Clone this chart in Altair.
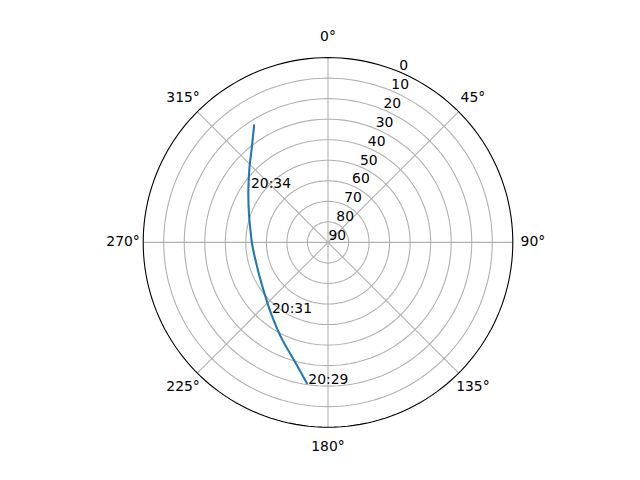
import altair as alt
import pandas as pd

# ---- data ----
track_az = [188.3, 195.5, 205.8, 218.8, 230.1, 247.2, 268.0, 275.5, 289.1, 302.5, 313.3, 321.0, 328.0]
track_el = [20.3, 29.7, 38.1, 45.7, 50.0, 53.2, 53.1, 52.3, 49.3, 44.0, 37.4, 31.0, 22.2]
label_text = ["20:29", "20:31", "20:34"]
label_az = [188.3, 218.8, 305.0]
label_el = [20.3, 45.7, 43.6]
ring_el = [0, 10, 20, 30, 40, 50, 60, 70, 80, 90]
spoke_az = [0, 45, 90, 135, 180, 225, 270, 315]
spoke_labels = ["0°", "45°", "90°", "135°", "180°", "225°", "270°", "315°"]

FONT = "DejaVu Sans"
FS = 13.9

xs = alt.Scale(domain=[-155.84, 146.10], nice=False, zero=False)
ys = alt.Scale(domain=[-109.87, 114.16], nice=False, zero=False)

def X(f):
    return alt.X(f, type="quantitative", scale=xs, axis=None)

def Y(f):
    return alt.Y(f, type="quantitative", scale=ys, axis=None)

XC = "datum.rho * sin(datum.az * PI / 180)"
YC = "datum.rho * cos(datum.az * PI / 180)"

# grid circles
circ_rows = [{"el": e, "az": a} for e in ring_el[1:] for a in range(0, 361, 2)]
circ_df = pd.DataFrame(circ_rows)
grid_circles = alt.Chart(circ_df).transform_filter("datum.el > 0").transform_calculate(
    rho="90 - datum.el").transform_calculate(x=XC, y=YC).mark_line(
    color="#b0b0b0", strokeWidth=1.1).encode(
    x=X("x"), y=Y("y"), detail="el:N", order="az:Q")

outer = alt.Chart(pd.DataFrame([{"el": 0, "az": a} for a in range(0, 361, 2)])).transform_calculate(
    rho="90 - datum.el").transform_calculate(x=XC, y=YC).mark_line(
    color="black", strokeWidth=1.1).encode(x=X("x"), y=Y("y"), order="az:Q")

spoke_df = pd.DataFrame({"az": spoke_az, "lab": spoke_labels})
spokes = alt.Chart(spoke_df).transform_calculate(rho="90").transform_calculate(
    x=XC, y=YC, x0="0", y0="0").mark_rule(color="#b0b0b0", strokeWidth=1.1).encode(
    x=X("x0"), y=Y("y0"), x2="x:Q", y2="y:Q")

theta_labels = alt.Chart(spoke_df).transform_calculate(rho="99.8").transform_calculate(
    x=XC, y=YC).mark_text(font=FONT, fontSize=FS, color="black", align="center",
                          baseline="middle").encode(x=X("x"), y=Y("y"), text="lab:N")

rlab_df = pd.DataFrame({"el": ring_el, "lab": [str(e) for e in ring_el]})
r_labels = alt.Chart(rlab_df).transform_calculate(rho="90 - datum.el", az="22.5").transform_calculate(
    x=XC, y=YC).mark_text(font=FONT, fontSize=FS, color="black", align="left",
                          baseline="bottom", dx=0.5, dy=1).encode(x=X("x"), y=Y("y"), text="lab:N")

track_df = pd.DataFrame({"i": list(range(len(track_az))), "az": track_az, "el": track_el})
track = alt.Chart(track_df).transform_calculate(rho="90 - datum.el").transform_calculate(
    x=XC, y=YC).mark_line(color="#1f77b4", strokeWidth=2.08, interpolate="catmull-rom").encode(
    x=X("x"), y=Y("y"), order="i:Q")

lab_df = pd.DataFrame({"az": label_az, "el": label_el, "t": label_text})
time_labels = alt.Chart(lab_df).transform_calculate(rho="90 - datum.el").transform_calculate(
    x=XC, y=YC).mark_text(font=FONT, fontSize=FS, color="black", align="left",
                          baseline="alphabetic", dx=1).encode(x=X("x"), y=Y("y"), text="t:N")

chart = alt.layer(grid_circles, spokes, outer, r_labels, theta_labels, track, time_labels).properties(
    width=620, height=460, autosize=alt.AutoSizeParams(type="none"), padding=0
).configure_view(stroke=None)

chart.save("out.html", embed_options={"renderer": "svg", "actions": False})
